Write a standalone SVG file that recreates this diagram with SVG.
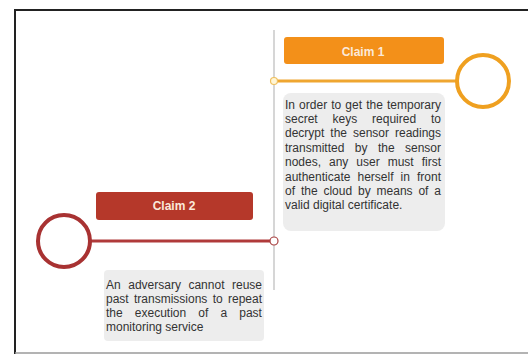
<svg xmlns="http://www.w3.org/2000/svg" width="528" height="356" viewBox="0 0 528 356">
<style>
.body{font-family:"Liberation Sans",Arial,sans-serif;font-size:12px;fill:#333}
.title{font-family:"Liberation Sans",Arial,sans-serif;font-size:12px;font-weight:bold;fill:#FBE9DA;text-anchor:middle}
.card{fill:#EDEDED}
</style>
<rect x="0" y="0" width="528" height="356" fill="#FFFFFF"/>
<g id="frame">
<line x1="15" y1="10" x2="528" y2="10" stroke="#222" stroke-width="2"/>
<line x1="15" y1="9" x2="15" y2="354" stroke="#222" stroke-width="2"/>
<line x1="15" y1="353" x2="528" y2="353" stroke="#9A9A9A" stroke-width="1.5"/>
</g>
<g id="connectors">
<line x1="274" y1="30" x2="274" y2="290" stroke="#C8C8C8" stroke-width="1.5"/>
<line x1="274" y1="81" x2="457" y2="81" stroke="#EFA630" stroke-width="3"/>
<line x1="90" y1="241" x2="274" y2="241" stroke="#B03A3A" stroke-width="3"/>
</g>
<g id="claim1">
<rect x="284" y="37" width="160" height="27" rx="3" fill="#F39019"/>
<text class="title" x="363" y="56">Claim 1</text>
<circle cx="483" cy="81" r="26" fill="#FFFFFF" stroke="#EFA020" stroke-width="4"/>
<circle cx="274" cy="81" r="3.5" fill="#FFF6D6" stroke="#EFC060" stroke-width="1.2"/>
</g>
<g id="text1">
<rect class="card" x="283" y="93" width="162" height="138" rx="8"/>
<text class="body">
<tspan x="285" y="108.5" word-spacing="0.78">In order to get the temporary</tspan>
<tspan x="285" y="122.9" word-spacing="11.54">secret keys required to</tspan>
<tspan x="285" y="137.3" word-spacing="2.64">decrypt the sensor readings</tspan>
<tspan x="285" y="151.7" word-spacing="7.09">transmitted by the sensor</tspan>
<tspan x="285" y="166.1" word-spacing="4.65">nodes, any user must first</tspan>
<tspan x="285" y="180.5" word-spacing="3.75">authenticate herself in front</tspan>
<tspan x="285" y="194.9" word-spacing="2.54">of the cloud by means of a</tspan>
<tspan x="285" y="209.3" word-spacing="0">valid digital certificate.</tspan>
</text>
</g>
<g id="claim2">
<rect x="96" y="192" width="157" height="28" rx="3" fill="#B5382A"/>
<text class="title" x="174" y="210">Claim 2</text>
<circle cx="64" cy="241" r="26" fill="#FFFFFF" stroke="#A83232" stroke-width="4"/>
<circle cx="274" cy="241" r="4" fill="#FFFFFF" stroke="#A84040" stroke-width="1.2"/>
</g>
<g id="text2">
<rect class="card" x="104" y="270" width="160" height="71" rx="4"/>
<text class="body">
<tspan x="106" y="288.5" word-spacing="4.2">An adversary cannot reuse</tspan>
<tspan x="106" y="302.7" word-spacing="1.98">past transmissions to repeat</tspan>
<tspan x="106" y="316.9" word-spacing="8.8">the execution of a past</tspan>
<tspan x="106" y="331.1" word-spacing="0">monitoring service</tspan>
</text>
</g>
</svg>
